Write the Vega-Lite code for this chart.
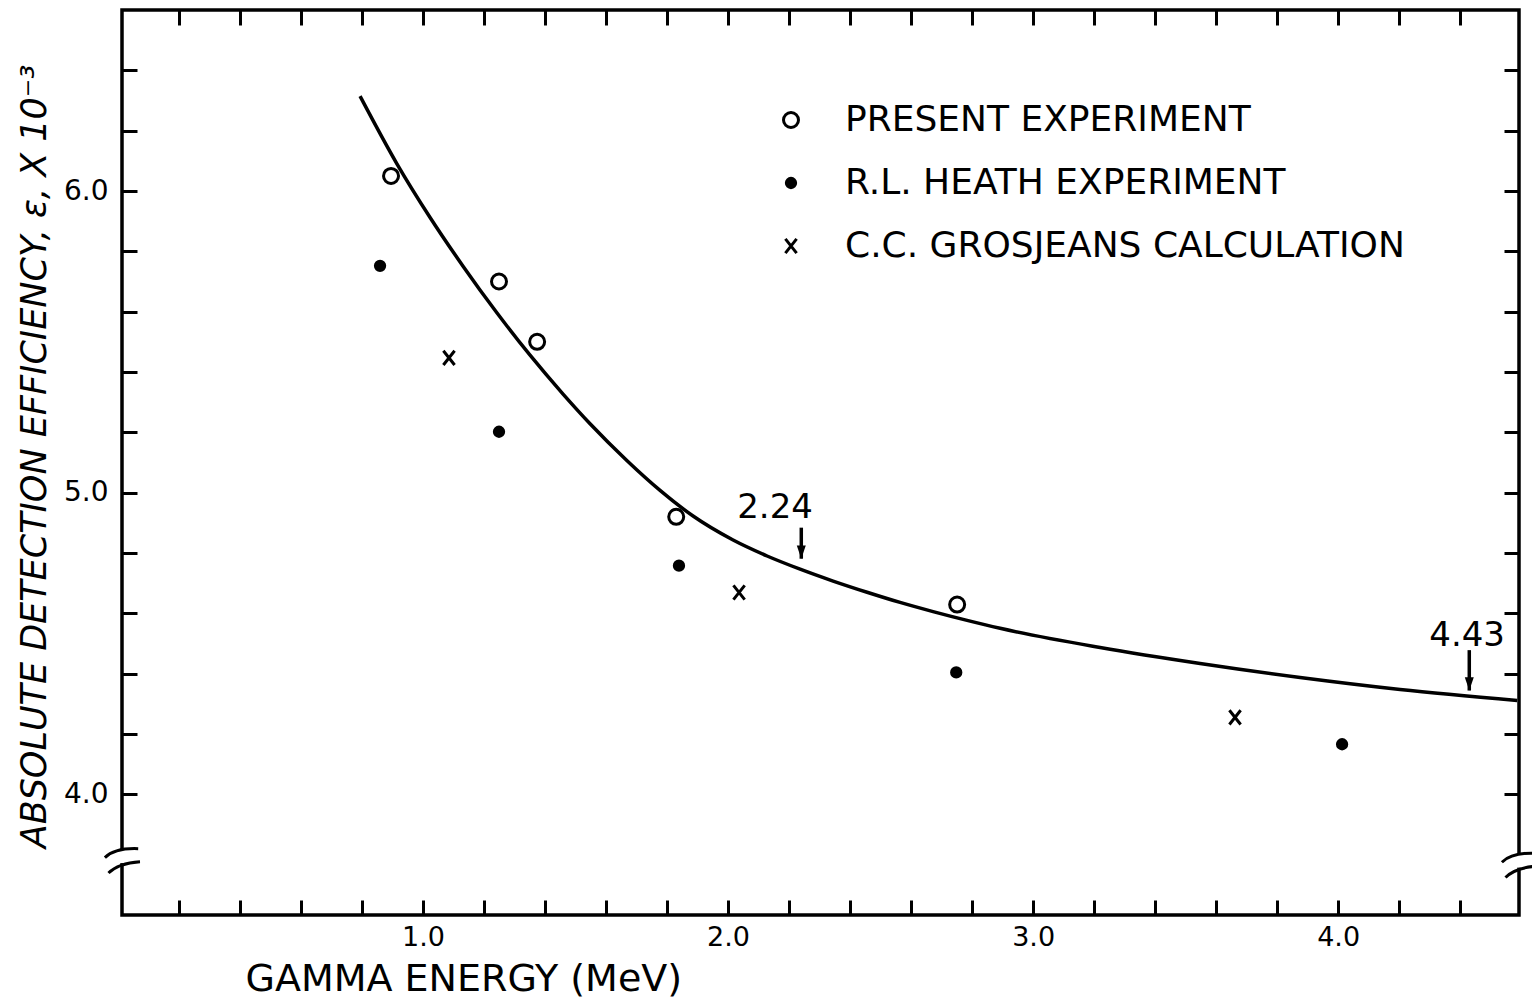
{
  "$schema": "https://vega.github.io/schema/vega-lite/v6.json",
  "width": 1397,
  "height": 905,
  "autosize": {"type": "none"},
  "padding": {"left": 122, "top": 10, "right": 13, "bottom": 84},
  "background": "white",
  "config": {
    "view": {"stroke": "black", "strokeWidth": 3.5},
    "font": "DejaVu Sans",
    "axis": {
      "grid": false,
      "domain": false,
      "tickColor": "black",
      "tickWidth": 3,
      "tickSize": -15,
      "labelColor": "black",
      "titleColor": "black",
      "labelFont": "DejaVu Sans",
      "titleFont": "DejaVu Sans",
      "labelFontSize": 28,
      "titleFontWeight": "normal"
    }
  },
  "datasets": {
    "curve": [
      {"E": 0.7934, "eff": 6.3146},
      {"E": 0.9148, "eff": 6.0894},
      {"E": 1.023, "eff": 5.9123},
      {"E": 1.1311, "eff": 5.7507},
      {"E": 1.2426, "eff": 5.5954},
      {"E": 1.3508, "eff": 5.4556},
      {"E": 1.459, "eff": 5.3268},
      {"E": 1.5475, "eff": 5.2285},
      {"E": 1.6689, "eff": 5.106},
      {"E": 1.777, "eff": 5.0076},
      {"E": 1.8852, "eff": 4.9225},
      {"E": 2.0164, "eff": 4.843},
      {"E": 2.1279, "eff": 4.7901},
      {"E": 2.2361, "eff": 4.7464},
      {"E": 2.3443, "eff": 4.707},
      {"E": 2.4557, "eff": 4.6699},
      {"E": 2.5639, "eff": 4.6361},
      {"E": 2.6721, "eff": 4.6056},
      {"E": 2.7836, "eff": 4.5765},
      {"E": 2.8918, "eff": 4.5503},
      {"E": 3.2197, "eff": 4.4868},
      {"E": 3.5475, "eff": 4.4338},
      {"E": 3.8754, "eff": 4.3874},
      {"E": 4.2033, "eff": 4.3477},
      {"E": 4.5869, "eff": 4.3113}
    ],
    "points": [
      {"series": "PRESENT EXPERIMENT", "E": 0.895, "eff": 6.05},
      {"series": "PRESENT EXPERIMENT", "E": 1.249, "eff": 5.70},
      {"series": "PRESENT EXPERIMENT", "E": 1.374, "eff": 5.50},
      {"series": "PRESENT EXPERIMENT", "E": 1.83, "eff": 4.92},
      {"series": "PRESENT EXPERIMENT", "E": 2.751, "eff": 4.629},
      {"series": "R.L. HEATH EXPERIMENT", "E": 0.859, "eff": 5.752},
      {"series": "R.L. HEATH EXPERIMENT", "E": 1.249, "eff": 5.202},
      {"series": "R.L. HEATH EXPERIMENT", "E": 1.839, "eff": 4.758},
      {"series": "R.L. HEATH EXPERIMENT", "E": 2.748, "eff": 4.404},
      {"series": "R.L. HEATH EXPERIMENT", "E": 4.013, "eff": 4.166},
      {"series": "C.C. GROSJEANS CALCULATION", "E": 1.085, "eff": 5.447},
      {"series": "C.C. GROSJEANS CALCULATION", "E": 2.036, "eff": 4.669},
      {"series": "C.C. GROSJEANS CALCULATION", "E": 3.662, "eff": 4.255}
    ],
    "arrows": [
      {"E": 2.24, "top": 4.884, "tip": 4.781},
      {"E": 4.43, "top": 4.478, "tip": 4.344}
    ],
    "labels": [
      {"E": 2.154, "eff": 4.917, "text": "2.24"},
      {"E": 4.423, "eff": 4.493, "text": "4.43"}
    ],
    "breaks": [
      {"E": 0.013, "eff": 3.79},
      {"E": 4.593, "eff": 3.775}
    ]
  },
  "layer": [
    {
      "data": {"name": "curve"},
      "mark": {"type": "line", "color": "black", "strokeWidth": 3.5, "interpolate": "monotone"},
      "encoding": {
        "x": {
          "field": "E", "type": "quantitative",
          "scale": {"domain": [0.013, 4.593], "nice": false, "zero": false},
          "axis": {
            "orient": "bottom",
            "values": [0.2, 0.4, 0.6, 0.8, 1, 1.2, 1.4, 1.6, 1.8, 2, 2.2, 2.4, 2.6, 2.8, 3, 3.2, 3.4, 3.6, 3.8, 4, 4.2, 4.4],
            "labelExpr": "datum.value % 1 === 0 ? format(datum.value, '.1f') : ''",
            "labelFontSize": 27,
            "labelPadding": 24,
            "labelFlush": false,
            "labelOverlap": false,
            "title": "GAMMA ENERGY (MeV)",
            "titleFontSize": 38,
            "titleX": 123,
            "titleY": 75,
            "titleAlign": "left",
            "titleBaseline": "alphabetic"
          }
        },
        "y": {
          "field": "eff", "type": "quantitative",
          "scale": {"domain": [3.6, 6.6], "nice": false, "zero": false},
          "axis": {
            "orient": "left",
            "values": [4, 4.2, 4.4, 4.6, 4.8, 5, 5.2, 5.4, 5.6, 5.8, 6, 6.2, 6.4],
            "labelExpr": "datum.value % 1 === 0 ? format(datum.value, '.1f') : ''",
            "labelPadding": 29,
            "labelFlush": false,
            "labelOverlap": false,
            "title": "ABSOLUTE DETECTION EFFICIENCY, ε, X 10⁻³",
            "titleFontSize": 35,
            "titleFontStyle": "italic",
            "titleX": -77,
            "titleY": 446,
            "titleAngle": -90,
            "titleAlign": "center",
            "titleBaseline": "alphabetic"
          }
        }
      }
    },
    {
      "data": {"name": "points"},
      "mark": {"type": "point", "stroke": "black", "strokeWidth": 3, "size": 225, "opacity": 1},
      "encoding": {
        "x": {
          "field": "E", "type": "quantitative",
          "scale": {"domain": [0.013, 4.593], "nice": false, "zero": false},
          "axis": {
            "orient": "top",
            "values": [0.2, 0.4, 0.6, 0.8, 1, 1.2, 1.4, 1.6, 1.8, 2, 2.2, 2.4, 2.6, 2.8, 3, 3.2, 3.4, 3.6, 3.8, 4, 4.2, 4.4],
            "labels": false,
            "title": null
          }
        },
        "y": {
          "field": "eff", "type": "quantitative",
          "scale": {"domain": [3.6, 6.6], "nice": false, "zero": false},
          "axis": {
            "orient": "right",
            "values": [4, 4.2, 4.4, 4.6, 4.8, 5, 5.2, 5.4, 5.6, 5.8, 6, 6.2, 6.4],
            "labels": false,
            "title": null
          }
        },
        "shape": {
          "field": "series", "type": "nominal",
          "scale": {
            "domain": ["PRESENT EXPERIMENT", "R.L. HEATH EXPERIMENT", "C.C. GROSJEANS CALCULATION"],
            "range": ["circle", "M0.62,0A0.62,0.62 0 1,1 -0.62,0A0.62,0.62 0 1,1 0.62,0Z", "M-0.75,-0.95L0.75,0.95M-0.75,0.95L0.75,-0.95"]
          },
          "legend": {
            "title": null, "orient": "none", "legendX": 651, "legendY": 92,
            "labelFontSize": 36, "labelFont": "DejaVu Sans", "labelColor": "black",
            "symbolSize": 225, "symbolStrokeWidth": 3,
            "rowPadding": 27, "labelOffset": 36, "padding": 0, "labelLimit": 0
          }
        },
        "fill": {
          "field": "series", "type": "nominal",
          "scale": {
            "domain": ["PRESENT EXPERIMENT", "R.L. HEATH EXPERIMENT", "C.C. GROSJEANS CALCULATION"],
            "range": ["white", "black", "transparent"]
          },
          "legend": {
            "title": null, "orient": "none", "legendX": 651, "legendY": 92,
            "labelFontSize": 36, "labelFont": "DejaVu Sans", "labelColor": "black",
            "symbolSize": 225, "symbolStrokeWidth": 3,
            "rowPadding": 27, "labelOffset": 36, "padding": 0, "labelLimit": 0
          }
        },
        "stroke": {
          "field": "series", "type": "nominal",
          "scale": {
            "domain": ["PRESENT EXPERIMENT", "R.L. HEATH EXPERIMENT", "C.C. GROSJEANS CALCULATION"],
            "range": ["black", "black", "black"]
          },
          "legend": {
            "title": null, "orient": "none", "legendX": 651, "legendY": 92,
            "labelFontSize": 36, "labelFont": "DejaVu Sans", "labelColor": "black",
            "symbolSize": 225, "symbolStrokeWidth": 3,
            "rowPadding": 27, "labelOffset": 36, "padding": 0, "labelLimit": 0
          }
        }
      }
    },
    {
      "data": {"name": "arrows"},
      "mark": {"type": "rule", "color": "black", "strokeWidth": 3.5},
      "encoding": {
        "x": {"field": "E", "type": "quantitative", "axis": null},
        "y": {"field": "top", "type": "quantitative", "axis": null},
        "y2": {"field": "tip"}
      }
    },
    {
      "data": {"name": "arrows"},
      "mark": {"type": "point", "shape": "M-0.75,-2.2L0,0L0.75,-2.2Z", "size": 144, "filled": true, "color": "black", "opacity": 1, "strokeWidth": 0},
      "encoding": {
        "x": {"field": "E", "type": "quantitative", "axis": null},
        "y": {"field": "tip", "type": "quantitative", "axis": null}
      }
    },
    {
      "data": {"name": "labels"},
      "mark": {"type": "text", "fontSize": 34, "font": "DejaVu Sans", "align": "center", "baseline": "alphabetic", "color": "black"},
      "encoding": {
        "x": {"field": "E", "type": "quantitative", "axis": null},
        "y": {"field": "eff", "type": "quantitative", "axis": null},
        "text": {"field": "text"}
      }
    },
    {
      "data": {"name": "breaks"},
      "mark": {"type": "point", "shape": "M-0.3,-0.45L0.3,-0.45L0.3,0.3L-0.3,0.3Z", "size": 1296, "filled": true, "color": "white", "opacity": 1, "strokeWidth": 0},
      "encoding": {
        "x": {"field": "E", "type": "quantitative", "axis": null},
        "y": {"field": "eff", "type": "quantitative", "axis": null}
      }
    },
    {
      "data": {"name": "breaks"},
      "mark": {"type": "point", "shape": "M-0.95,0Q-0.4,-0.55 0.9,-0.5M-0.75,0.85Q-0.2,0.3 1,0.22", "size": 1296, "filled": false, "stroke": "black", "opacity": 1, "strokeWidth": 3},
      "encoding": {
        "x": {"field": "E", "type": "quantitative", "axis": null},
        "y": {"field": "eff", "type": "quantitative", "axis": null}
      }
    }
  ],
  "resolve": {"axis": {"x": "independent", "y": "independent"}}
}
